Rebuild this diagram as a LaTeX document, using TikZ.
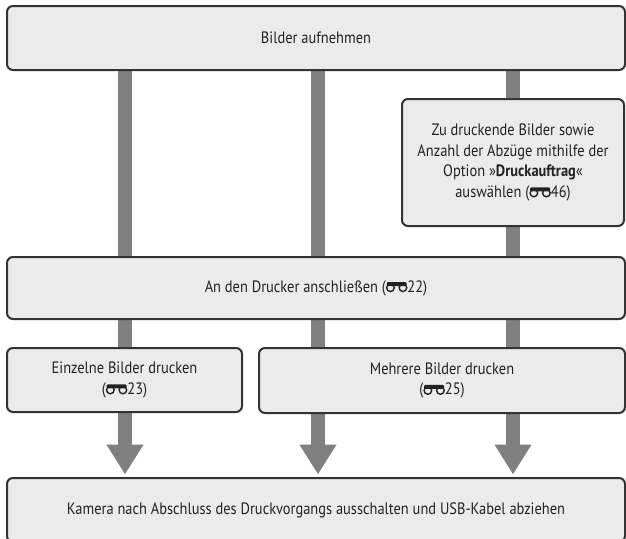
\documentclass[tikz,border=0pt]{standalone}
\usepackage{fontspec}
\setmainfont[FakeStretch=0.875]{PT Sans}
\definecolor{boxFill}{RGB}{235, 235, 235}
\definecolor{boxLine}{RGB}{51, 51, 51}
\definecolor{flowGray}{RGB}{128, 128, 128}
\definecolor{txtDark}{RGB}{34, 34, 34}
\usetikzlibrary{arrows.meta, backgrounds}
\newcommand{\binoc}{\tikz[baseline=0pt, x=1em, y=1em]{
    \draw[line width=1.4pt] (0.32,0.26) circle (0.23);
    \draw[line width=1.4pt] (1.08,0.26) circle (0.23);
    \fill[rounded corners=1pt] (0.1,0.36) rectangle (1.3,0.6);}}
\tikzset{
  stage/.style={rectangle, rounded corners=6pt, draw=boxLine, line width=2pt, fill=boxFill, align=center, text=txtDark, font=\fontsize{16.5}{20.5}\selectfont, inner sep=0pt},
  wide/.style={stage, minimum width=618pt, minimum height=#1},
  wide/.default=64pt,
  flowarrow/.style={-{Triangle[length=30pt, width=35pt]}, line width=14pt, flowGray, shorten >=2.5pt},
}
\begin{document}
\begin{tikzpicture}[x=1pt, y=-1pt]
  \useasboundingbox (0,0) rectangle (626,538);

  \node[wide] (bild) at (316, 38) {Bilder aufnehmen};
  \node[stage, minimum width=222pt, minimum height=127pt] (auftrag) at (513, 162.5) {
    Zu druckende Bilder sowie\\
    Anzahl der Abzüge mithilfe der\\
    Option »\textbf{Druckauftrag}«\\
    auswählen (\binoc46)
  };
  \node[wide=62pt] (drucker) at (316, 288) {An den Drucker anschließen (\binoc22)};
  \node[stage, minimum width=235pt, minimum height=64pt] (einzel) at (124.5, 380) {
    Einzelne Bilder drucken\\
    (\binoc23)
  };
  \node[stage, minimum width=366pt, minimum height=65pt] (mehrere) at (442, 380.5) {
    Mehrere Bilder drucken\\
    (\binoc25)
  };
  \node[wide] (ende) at (316, 510) {Kamera nach Abschluss des Druckvorgangs ausschalten und USB-Kabel abziehen};

  \coordinate (links) at (125, 0);
  \coordinate (mitte) at (318, 0);
  \coordinate (rechts) at (513, 0);

  \begin{pgfonlayer}{background}
    \foreach \c in {links, mitte, rechts} {
      \draw[flowarrow] (bild.south -| \c) -- (ende.north -| \c);
    }
  \end{pgfonlayer}
\end{tikzpicture}
\end{document}
